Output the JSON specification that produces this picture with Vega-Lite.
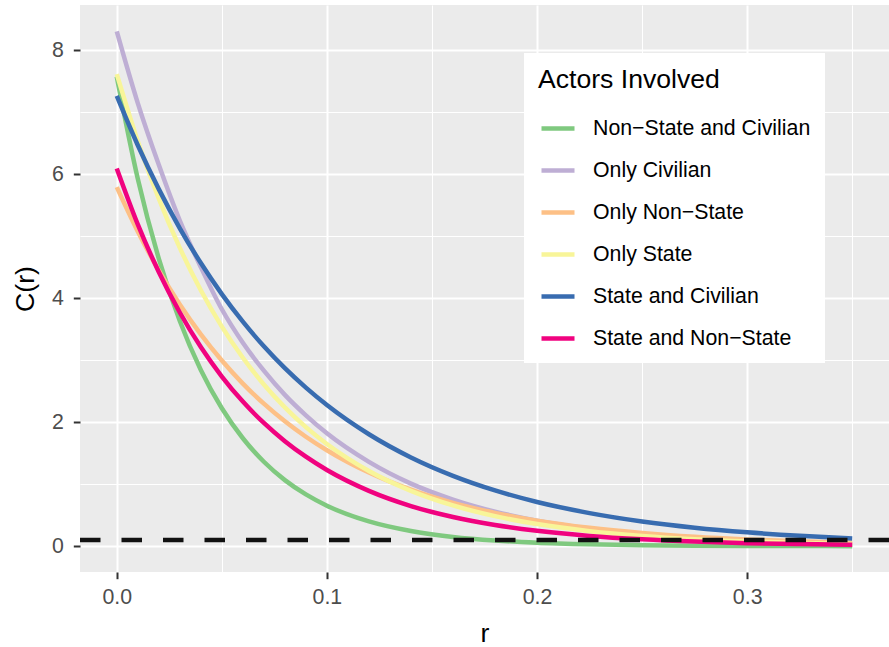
{
  "$schema": "https://vega.github.io/schema/vega-lite/v6.json",
  "width": 809,
  "height": 567,
  "autosize": {"type": "none"},
  "padding": {"left": 80, "top": 5, "right": 0, "bottom": 75},
  "config": {
    "font": "Liberation Sans",
    "view": {"fill": "#EBEBEB", "stroke": null}
  },
  "data": {"values": [
    {"actors":"Non−State and Civilian","r":0,"C":7.57},{"actors":"Non−State and Civilian","r":0.01,"C":5.925},{"actors":"Non−State and Civilian","r":0.02,"C":4.637},{"actors":"Non−State and Civilian","r":0.03,"C":3.63},{"actors":"Non−State and Civilian","r":0.04,"C":2.841},{"actors":"Non−State and Civilian","r":0.05,"C":2.224},{"actors":"Non−State and Civilian","r":0.06,"C":1.741},{"actors":"Non−State and Civilian","r":0.07,"C":1.362},{"actors":"Non−State and Civilian","r":0.08,"C":1.066},{"actors":"Non−State and Civilian","r":0.09,"C":0.835},{"actors":"Non−State and Civilian","r":0.1,"C":0.653},{"actors":"Non−State and Civilian","r":0.12,"C":0.4},{"actors":"Non−State and Civilian","r":0.14,"C":0.245},{"actors":"Non−State and Civilian","r":0.16,"C":0.15},{"actors":"Non−State and Civilian","r":0.18,"C":0.092},{"actors":"Non−State and Civilian","r":0.2,"C":0.056},{"actors":"Non−State and Civilian","r":0.225,"C":0.031},{"actors":"Non−State and Civilian","r":0.25,"C":0.017},{"actors":"Non−State and Civilian","r":0.275,"C":0.009},{"actors":"Non−State and Civilian","r":0.3,"C":0.005},{"actors":"Non−State and Civilian","r":0.325,"C":0.003},{"actors":"Non−State and Civilian","r":0.35,"C":0.001},
    {"actors":"Only Civilian","r":0,"C":8.3},{"actors":"Only Civilian","r":0.01,"C":7.144},{"actors":"Only Civilian","r":0.02,"C":6.149},{"actors":"Only Civilian","r":0.03,"C":5.25},{"actors":"Only Civilian","r":0.04,"C":4.5},{"actors":"Only Civilian","r":0.05,"C":3.82},{"actors":"Only Civilian","r":0.06,"C":3.28},{"actors":"Only Civilian","r":0.07,"C":2.83},{"actors":"Only Civilian","r":0.08,"C":2.44},{"actors":"Only Civilian","r":0.09,"C":2.11},{"actors":"Only Civilian","r":0.1,"C":1.82},{"actors":"Only Civilian","r":0.12,"C":1.36},{"actors":"Only Civilian","r":0.14,"C":1.01},{"actors":"Only Civilian","r":0.16,"C":0.753},{"actors":"Only Civilian","r":0.18,"C":0.558},{"actors":"Only Civilian","r":0.2,"C":0.413},{"actors":"Only Civilian","r":0.225,"C":0.284},{"actors":"Only Civilian","r":0.25,"C":0.195},{"actors":"Only Civilian","r":0.275,"C":0.134},{"actors":"Only Civilian","r":0.3,"C":0.092},{"actors":"Only Civilian","r":0.325,"C":0.063},{"actors":"Only Civilian","r":0.35,"C":0.044},
    {"actors":"Only Non−State","r":0,"C":5.79},{"actors":"Only Non−State","r":0.01,"C":5.074},{"actors":"Only Non−State","r":0.02,"C":4.447},{"actors":"Only Non−State","r":0.03,"C":3.897},{"actors":"Only Non−State","r":0.04,"C":3.415},{"actors":"Only Non−State","r":0.05,"C":2.993},{"actors":"Only Non−State","r":0.06,"C":2.622},{"actors":"Only Non−State","r":0.07,"C":2.298},{"actors":"Only Non−State","r":0.08,"C":2.014},{"actors":"Only Non−State","r":0.09,"C":1.765},{"actors":"Only Non−State","r":0.1,"C":1.547},{"actors":"Only Non−State","r":0.12,"C":1.188},{"actors":"Only Non−State","r":0.14,"C":0.912},{"actors":"Only Non−State","r":0.16,"C":0.7},{"actors":"Only Non−State","r":0.18,"C":0.538},{"actors":"Only Non−State","r":0.2,"C":0.413},{"actors":"Only Non−State","r":0.225,"C":0.297},{"actors":"Only Non−State","r":0.25,"C":0.214},{"actors":"Only Non−State","r":0.275,"C":0.153},{"actors":"Only Non−State","r":0.3,"C":0.11},{"actors":"Only Non−State","r":0.325,"C":0.079},{"actors":"Only Non−State","r":0.35,"C":0.057},
    {"actors":"Only State","r":0,"C":7.61},{"actors":"Only State","r":0.01,"C":6.53},{"actors":"Only State","r":0.02,"C":5.604},{"actors":"Only State","r":0.03,"C":4.809},{"actors":"Only State","r":0.04,"C":4.127},{"actors":"Only State","r":0.05,"C":3.541},{"actors":"Only State","r":0.06,"C":3.039},{"actors":"Only State","r":0.07,"C":2.608},{"actors":"Only State","r":0.08,"C":2.238},{"actors":"Only State","r":0.09,"C":1.92},{"actors":"Only State","r":0.1,"C":1.648},{"actors":"Only State","r":0.12,"C":1.213},{"actors":"Only State","r":0.14,"C":0.893},{"actors":"Only State","r":0.16,"C":0.658},{"actors":"Only State","r":0.18,"C":0.485},{"actors":"Only State","r":0.2,"C":0.357},{"actors":"Only State","r":0.225,"C":0.243},{"actors":"Only State","r":0.25,"C":0.166},{"actors":"Only State","r":0.275,"C":0.113},{"actors":"Only State","r":0.3,"C":0.077},{"actors":"Only State","r":0.325,"C":0.053},{"actors":"Only State","r":0.35,"C":0.036},
    {"actors":"State and Civilian","r":0,"C":7.26},{"actors":"State and Civilian","r":0.01,"C":6.465},{"actors":"State and Civilian","r":0.02,"C":5.757},{"actors":"State and Civilian","r":0.03,"C":5.126},{"actors":"State and Civilian","r":0.04,"C":4.565},{"actors":"State and Civilian","r":0.05,"C":4.065},{"actors":"State and Civilian","r":0.06,"C":3.62},{"actors":"State and Civilian","r":0.07,"C":3.223},{"actors":"State and Civilian","r":0.08,"C":2.87},{"actors":"State and Civilian","r":0.09,"C":2.556},{"actors":"State and Civilian","r":0.1,"C":2.276},{"actors":"State and Civilian","r":0.12,"C":1.805},{"actors":"State and Civilian","r":0.14,"C":1.431},{"actors":"State and Civilian","r":0.16,"C":1.135},{"actors":"State and Civilian","r":0.18,"C":0.9},{"actors":"State and Civilian","r":0.2,"C":0.713},{"actors":"State and Civilian","r":0.225,"C":0.534},{"actors":"State and Civilian","r":0.25,"C":0.399},{"actors":"State and Civilian","r":0.275,"C":0.299},{"actors":"State and Civilian","r":0.3,"C":0.224},{"actors":"State and Civilian","r":0.325,"C":0.167},{"actors":"State and Civilian","r":0.35,"C":0.125},
    {"actors":"State and Non−State","r":0,"C":6.09},{"actors":"State and Non−State","r":0.01,"C":5.189},{"actors":"State and Non−State","r":0.02,"C":4.422},{"actors":"State and Non−State","r":0.03,"C":3.768},{"actors":"State and Non−State","r":0.04,"C":3.211},{"actors":"State and Non−State","r":0.05,"C":2.736},{"actors":"State and Non−State","r":0.06,"C":2.332},{"actors":"State and Non−State","r":0.07,"C":1.987},{"actors":"State and Non−State","r":0.08,"C":1.693},{"actors":"State and Non−State","r":0.09,"C":1.443},{"actors":"State and Non−State","r":0.1,"C":1.229},{"actors":"State and Non−State","r":0.12,"C":0.893},{"actors":"State and Non−State","r":0.14,"C":0.648},{"actors":"State and Non−State","r":0.16,"C":0.471},{"actors":"State and Non−State","r":0.18,"C":0.342},{"actors":"State and Non−State","r":0.2,"C":0.248},{"actors":"State and Non−State","r":0.225,"C":0.166},{"actors":"State and Non−State","r":0.25,"C":0.112},{"actors":"State and Non−State","r":0.275,"C":0.075},{"actors":"State and Non−State","r":0.3,"C":0.05},{"actors":"State and Non−State","r":0.325,"C":0.034},{"actors":"State and Non−State","r":0.35,"C":0.022}
  ]},
  "layer": [
    {
      "mark": {"type": "line", "strokeWidth": 4.5, "interpolate": "monotone"},
      "encoding": {
        "x": {
          "field": "r", "type": "quantitative",
          "scale": {"domain": [-0.0175, 0.3675], "nice": false, "zero": false},
          "axis": {
            "title": "r",
            "values": [0, 0.05, 0.1, 0.15, 0.2, 0.25, 0.3, 0.35],
            "labelExpr": "abs(datum.value*10 - round(datum.value*10)) < 0.001 ? format(datum.value, '.1f') : ''",
            "grid": true,
            "gridColor": "#FFFFFF",
            "gridWidth": {"condition": {"test": "abs(datum.value*10 - round(datum.value*10)) < 0.001", "value": 2}, "value": 1},
            "tickOpacity": {"condition": {"test": "abs(datum.value*10 - round(datum.value*10)) < 0.001", "value": 1}, "value": 0},
            "tickColor": "#333333", "tickWidth": 2, "tickSize": 6.7,
            "domain": false,
            "labelFontSize": 21.3, "labelColor": "#4D4D4D", "labelPadding": 8,
            "labelFlush": false, "labelOverlap": false,
            "titleFontSize": 26.6, "titleFontWeight": "normal", "titleColor": "#000000", "titlePadding": 12
          }
        },
        "y": {
          "field": "C", "type": "quantitative",
          "scale": {"domain": [-0.4155, 8.7255], "nice": false, "zero": false},
          "axis": {
            "title": "C(r)",
            "values": [0, 1, 2, 3, 4, 5, 6, 7, 8],
            "labelExpr": "datum.value % 2 === 0 ? format(datum.value, 'd') : ''",
            "grid": true,
            "gridColor": "#FFFFFF",
            "gridWidth": {"condition": {"test": "datum.value % 2 === 0", "value": 2}, "value": 1},
            "tickOpacity": {"condition": {"test": "datum.value % 2 === 0", "value": 1}, "value": 0},
            "tickColor": "#333333", "tickWidth": 2, "tickSize": 6.7,
            "domain": false,
            "labelFontSize": 21.3, "labelColor": "#4D4D4D", "labelPadding": 10,
            "labelFlush": false, "labelOverlap": false,
            "titleFontSize": 26.6, "titleFontWeight": "normal", "titleColor": "#000000", "titlePadding": 12
          }
        },
        "color": {
          "field": "actors", "type": "nominal",
          "scale": {
            "domain": ["Non−State and Civilian", "Only Civilian", "Only Non−State", "Only State", "State and Civilian", "State and Non−State"],
            "range": ["#7FC97F", "#BEAED4", "#FDC086", "#F8F599", "#386CB0", "#F0027F"]
          },
          "legend": {
            "title": "Actors Involved",
            "orient": "none",
            "legendX": 444,
            "legendY": 48,
            "fillColor": "#FFFFFF",
            "padding": 14,
            "titleFontSize": 26.6,
            "titleFontWeight": "normal",
            "titleColor": "#000000",
            "titlePadding": 16,
            "titleLimit": 500,
            "labelFontSize": 21.3,
            "labelColor": "#000000",
            "labelLimit": 500,
            "symbolType": "stroke",
            "symbolSize": 1089,
            "symbolStrokeWidth": 4.5,
            "symbolOffset": 1,
            "labelOffset": 16,
            "rowPadding": 12
          }
        }
      }
    },
    {
      "data": {"values": [{"level": 0.1}]},
      "mark": {"type": "rule", "color": "#111111", "strokeWidth": 4.5, "strokeDash": [20.5, 21]},
      "encoding": {
        "y": {"field": "level", "type": "quantitative"}
      }
    }
  ]
}
